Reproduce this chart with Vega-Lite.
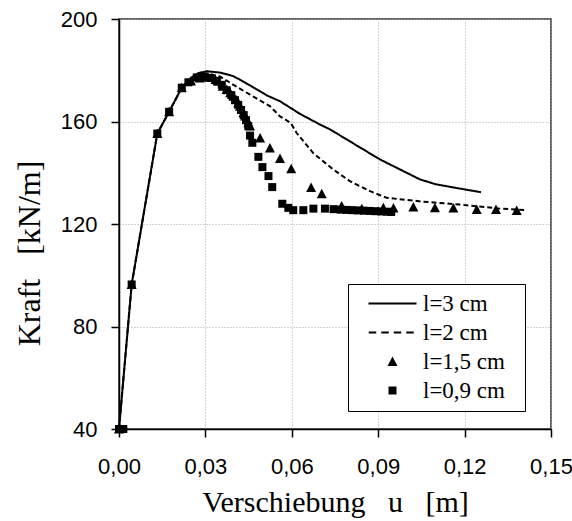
{
  "$schema": "https://vega.github.io/schema/vega-lite/v6.json",
  "width": 432,
  "height": 410,
  "autosize": {"type": "none"},
  "padding": {"left": 119, "top": 19, "right": 21, "bottom": 92},
  "background": "white",
  "datasets": {
    "lines": [
      {"s": "l=3 cm", "u": 0, "F": 40}, {"s": "l=3 cm", "u": 0.0044, "F": 96.4}, {"s": "l=3 cm", "u": 0.0133, "F": 155.3}, {"s": "l=3 cm", "u": 0.0174, "F": 163.8}, {"s": "l=3 cm", "u": 0.0218, "F": 173.2}, {"s": "l=3 cm", "u": 0.0245, "F": 176.6}, {"s": "l=3 cm", "u": 0.0275, "F": 178.9}, {"s": "l=3 cm", "u": 0.0305, "F": 179.6}, {"s": "l=3 cm", "u": 0.035, "F": 179.1}, {"s": "l=3 cm", "u": 0.0397, "F": 177.7}, {"s": "l=3 cm", "u": 0.0455, "F": 174.1}, {"s": "l=3 cm", "u": 0.0513, "F": 170.2}, {"s": "l=3 cm", "u": 0.0559, "F": 167.9}, {"s": "l=3 cm", "u": 0.0628, "F": 163}, {"s": "l=3 cm", "u": 0.0698, "F": 158.8}, {"s": "l=3 cm", "u": 0.0733, "F": 156.9}, {"s": "l=3 cm", "u": 0.0906, "F": 145.2}, {"s": "l=3 cm", "u": 0.1045, "F": 137.4}, {"s": "l=3 cm", "u": 0.11, "F": 135.5}, {"s": "l=3 cm", "u": 0.1149, "F": 134.5}, {"s": "l=3 cm", "u": 0.1257, "F": 132.4},
      {"s": "l=2 cm", "u": 0, "F": 40}, {"s": "l=2 cm", "u": 0.0044, "F": 96.4}, {"s": "l=2 cm", "u": 0.0133, "F": 155.3}, {"s": "l=2 cm", "u": 0.0174, "F": 163.8}, {"s": "l=2 cm", "u": 0.0218, "F": 173.2}, {"s": "l=2 cm", "u": 0.0245, "F": 176.3}, {"s": "l=2 cm", "u": 0.0275, "F": 178.3}, {"s": "l=2 cm", "u": 0.0305, "F": 178.8}, {"s": "l=2 cm", "u": 0.035, "F": 177.6}, {"s": "l=2 cm", "u": 0.0409, "F": 173.5}, {"s": "l=2 cm", "u": 0.0455, "F": 170.5}, {"s": "l=2 cm", "u": 0.0524, "F": 166}, {"s": "l=2 cm", "u": 0.0559, "F": 162}, {"s": "l=2 cm", "u": 0.0596, "F": 159.5}, {"s": "l=2 cm", "u": 0.0617, "F": 155.5}, {"s": "l=2 cm", "u": 0.0675, "F": 147.6}, {"s": "l=2 cm", "u": 0.0744, "F": 141.3}, {"s": "l=2 cm", "u": 0.0802, "F": 136.7}, {"s": "l=2 cm", "u": 0.0872, "F": 132.8}, {"s": "l=2 cm", "u": 0.093, "F": 130.2}, {"s": "l=2 cm", "u": 0.0999, "F": 129.4}, {"s": "l=2 cm", "u": 0.1057, "F": 128.7}, {"s": "l=2 cm", "u": 0.1184, "F": 127.6}, {"s": "l=2 cm", "u": 0.1323, "F": 126}, {"s": "l=2 cm", "u": 0.1415, "F": 125.4}
    ],
    "pts": [
      {"s": "l=1,5 cm", "u": 0, "F": 40}, {"s": "l=1,5 cm", "u": 0.0044, "F": 96.4}, {"s": "l=1,5 cm", "u": 0.0133, "F": 155.3}, {"s": "l=1,5 cm", "u": 0.0174, "F": 163.8}, {"s": "l=1,5 cm", "u": 0.0218, "F": 173.2}, {"s": "l=1,5 cm", "u": 0.025, "F": 175.8}, {"s": "l=1,5 cm", "u": 0.028, "F": 177}, {"s": "l=1,5 cm", "u": 0.031, "F": 177.3}, {"s": "l=1,5 cm", "u": 0.0335, "F": 176.4}, {"s": "l=1,5 cm", "u": 0.0345, "F": 175.7}, {"s": "l=1,5 cm", "u": 0.036, "F": 173.8}, {"s": "l=1,5 cm", "u": 0.0374, "F": 172.5}, {"s": "l=1,5 cm", "u": 0.0386, "F": 171.2}, {"s": "l=1,5 cm", "u": 0.0397, "F": 169.9}, {"s": "l=1,5 cm", "u": 0.0406, "F": 168.6}, {"s": "l=1,5 cm", "u": 0.0414, "F": 167.3}, {"s": "l=1,5 cm", "u": 0.042, "F": 166}, {"s": "l=1,5 cm", "u": 0.0426, "F": 164.7}, {"s": "l=1,5 cm", "u": 0.0432, "F": 163.4}, {"s": "l=1,5 cm", "u": 0.0438, "F": 162.1}, {"s": "l=1,5 cm", "u": 0.0444, "F": 160.8}, {"s": "l=1,5 cm", "u": 0.0449, "F": 159.5}, {"s": "l=1,5 cm", "u": 0.0455, "F": 158.2}, {"s": "l=1,5 cm", "u": 0.049, "F": 153.6}, {"s": "l=1,5 cm", "u": 0.0524, "F": 149.7}, {"s": "l=1,5 cm", "u": 0.0559, "F": 145.6}, {"s": "l=1,5 cm", "u": 0.0598, "F": 141.6}, {"s": "l=1,5 cm", "u": 0.0667, "F": 134.2}, {"s": "l=1,5 cm", "u": 0.0704, "F": 131.8}, {"s": "l=1,5 cm", "u": 0.0773, "F": 127}, {"s": "l=1,5 cm", "u": 0.0843, "F": 126}, {"s": "l=1,5 cm", "u": 0.0918, "F": 126.3}, {"s": "l=1,5 cm", "u": 0.0953, "F": 126.2}, {"s": "l=1,5 cm", "u": 0.1022, "F": 126.6}, {"s": "l=1,5 cm", "u": 0.1097, "F": 126.3}, {"s": "l=1,5 cm", "u": 0.1161, "F": 126.2}, {"s": "l=1,5 cm", "u": 0.1242, "F": 125.7}, {"s": "l=1,5 cm", "u": 0.1309, "F": 125.7}, {"s": "l=1,5 cm", "u": 0.1381, "F": 125.3},
      {"s": "l=0,9 cm", "u": 0, "F": 40}, {"s": "l=0,9 cm", "u": 0.0015, "F": 40}, {"s": "l=0,9 cm", "u": 0.0044, "F": 96.4}, {"s": "l=0,9 cm", "u": 0.0133, "F": 155.3}, {"s": "l=0,9 cm", "u": 0.0174, "F": 163.8}, {"s": "l=0,9 cm", "u": 0.0218, "F": 173.2}, {"s": "l=0,9 cm", "u": 0.0241, "F": 175.3}, {"s": "l=0,9 cm", "u": 0.027, "F": 177.2}, {"s": "l=0,9 cm", "u": 0.0295, "F": 177.4}, {"s": "l=0,9 cm", "u": 0.0318, "F": 177}, {"s": "l=0,9 cm", "u": 0.034, "F": 175.8}, {"s": "l=0,9 cm", "u": 0.0357, "F": 174.3}, {"s": "l=0,9 cm", "u": 0.0374, "F": 172.2}, {"s": "l=0,9 cm", "u": 0.039, "F": 170.3}, {"s": "l=0,9 cm", "u": 0.0403, "F": 168.3}, {"s": "l=0,9 cm", "u": 0.0414, "F": 166.5}, {"s": "l=0,9 cm", "u": 0.0424, "F": 164.5}, {"s": "l=0,9 cm", "u": 0.0433, "F": 162.5}, {"s": "l=0,9 cm", "u": 0.0441, "F": 160.5}, {"s": "l=0,9 cm", "u": 0.0449, "F": 158.2}, {"s": "l=0,9 cm", "u": 0.0455, "F": 154.5}, {"s": "l=0,9 cm", "u": 0.0463, "F": 151.7}, {"s": "l=0,9 cm", "u": 0.0484, "F": 146.2}, {"s": "l=0,9 cm", "u": 0.0498, "F": 142.2}, {"s": "l=0,9 cm", "u": 0.0519, "F": 138.7}, {"s": "l=0,9 cm", "u": 0.0532, "F": 134.4}, {"s": "l=0,9 cm", "u": 0.0567, "F": 127.9}, {"s": "l=0,9 cm", "u": 0.0588, "F": 126.3}, {"s": "l=0,9 cm", "u": 0.0605, "F": 125.4}, {"s": "l=0,9 cm", "u": 0.064, "F": 125.4}, {"s": "l=0,9 cm", "u": 0.0675, "F": 126}, {"s": "l=0,9 cm", "u": 0.0715, "F": 126}, {"s": "l=0,9 cm", "u": 0.0745, "F": 125.8}, {"s": "l=0,9 cm", "u": 0.077, "F": 125.6}, {"s": "l=0,9 cm", "u": 0.079, "F": 125.5}, {"s": "l=0,9 cm", "u": 0.081, "F": 125.4}, {"s": "l=0,9 cm", "u": 0.083, "F": 125.3}, {"s": "l=0,9 cm", "u": 0.085, "F": 125.2}, {"s": "l=0,9 cm", "u": 0.087, "F": 125.1}, {"s": "l=0,9 cm", "u": 0.089, "F": 125}, {"s": "l=0,9 cm", "u": 0.091, "F": 124.9}, {"s": "l=0,9 cm", "u": 0.093, "F": 124.8}, {"s": "l=0,9 cm", "u": 0.0945, "F": 124.7}
    ]
  },
  "encoding": {
    "x": {
      "field": "u", "type": "quantitative",
      "scale": {"domain": [0, 0.15], "nice": false, "zero": false},
      "axis": {
        "values": [0, 0.03, 0.06, 0.09, 0.12, 0.15],
        "labelExpr": "replace(format(datum.value, '.2f'), '.', ',')",
        "labelFlush": false,
        "title": "Verschiebung\u00a0\u00a0\u00a0u\u00a0\u00a0\u00a0[m]",
        "titleBaseline": "alphabetic",
        "titleY": 82,
        "labelPadding": 19
      }
    },
    "y": {
      "field": "F", "type": "quantitative",
      "scale": {"domain": [40, 200], "nice": false, "zero": false},
      "axis": {
        "values": [40, 80, 120, 160, 200],
        "labelFlush": false,
        "title": "Kraft\u00a0\u00a0\u00a0[kN/m]",
        "titleFontSize": 32,
        "titleBaseline": "alphabetic",
        "titleAngle": -90,
        "titleX": -80,
        "titleY": 234,
        "labelPadding": 14
      }
    }
  },
  "layer": [
    {
      "data": {"name": "lines"},
      "mark": {"type": "line", "color": "black", "strokeWidth": 2},
      "encoding": {
        "strokeDash": {
          "field": "s", "type": "nominal",
          "scale": {"domain": ["l=3 cm", "l=2 cm"], "range": [[1, 0], [5, 3]]},
          "legend": null
        }
      }
    },
    {
      "data": {"name": "pts"},
      "mark": {"type": "point", "filled": true, "color": "black", "opacity": 1, "size": 100},
      "encoding": {
        "shape": {
          "field": "s", "type": "nominal",
          "scale": {
            "domain": ["l=3 cm", "l=2 cm", "l=1,5 cm", "l=0,9 cm"],
            "range": [
              "M-4.8,-0.2H4.8V0.2H-4.8Z",
              "M-4.75,-0.22H-3.25V0.22H-4.75Z M-2.25,-0.22H-0.75V0.22H-2.25Z M0.25,-0.22H1.75V0.22H0.25Z M2.75,-0.22H4.25V0.22H2.75Z",
              "M0,-1L1,0.9L-1,0.9Z",
              "M-0.8,-0.8H0.8V0.8H-0.8Z"
            ]
          },
          "legend": {
            "title": null,
            "orient": "none",
            "legendX": 229,
            "legendY": 265,
            "strokeColor": "black",
            "fillColor": "white",
            "padding": 8,
            "symbolOffset": 25,
            "labelOffset": 19,
            "rowPadding": 5,
            "symbolSize": 100,
            "symbolFillColor": "black",
            "labelFont": "Liberation Serif",
            "labelFontSize": 23,
            "labelColor": "black",
            "labelExpr": "datum.label + '\u00a0\u00a0\u200b'"
          }
        }
      }
    }
  ],
  "config": {
    "view": {"stroke": "#333", "strokeWidth": 1.5},
    "axis": {
      "grid": true,
      "gridColor": "#aaa",
      "gridDash": [1, 2],
      "gridWidth": 1,
      "domainColor": "black",
      "domainWidth": 1.5,
      "tickColor": "black",
      "tickWidth": 1.5,
      "tickSize": 8,
      "labelFont": "Liberation Sans",
      "labelFontSize": 22,
      "labelColor": "black",
      "titleFont": "Liberation Serif",
      "titleFontSize": 30,
      "titleFontWeight": "normal",
      "titleColor": "black"
    }
  }
}
